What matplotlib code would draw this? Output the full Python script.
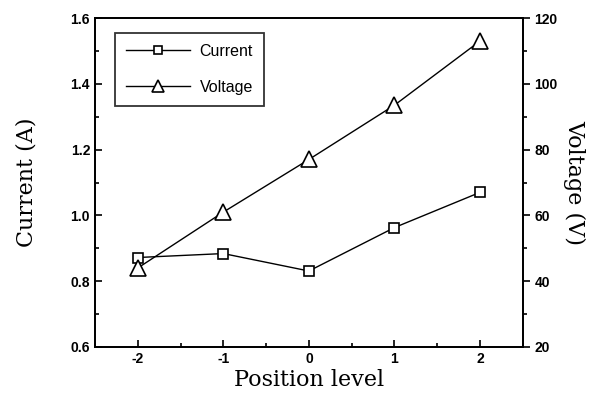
import numpy as np
import matplotlib.pyplot as plt

position = [-2, -1, 0, 1, 2]
current = [0.872, 0.884, 0.831, 0.963, 1.070]
voltage = [44, 61, 77, 93.5, 113]

fig = plt.figure(figsize=(6.03, 4.0), dpi=100)
ax = fig.add_axes([0.1575, 0.1325, 0.7095, 0.8225])
ax2 = ax.twinx()

tick_font = dict(family='Liberation Sans', weight='bold', size=10)
label_font = dict(family='DejaVu Serif', size=16)

l1, = ax.plot(position, current, color='black', lw=1, marker='s', ms=7,
              mfc='white', mec='black', mew=1.2, label='Current')
l2, = ax2.plot(position, voltage, color='black', lw=1, marker='^', ms=11,
               mfc='white', mec='black', mew=1.2, label='Voltage')

ax.set_xlim(-2.5, 2.5)
ax.set_ylim(0.6, 1.6)
ax2.set_ylim(20, 120)

ax.set_xticks(position)
ax.set_xticklabels(['-2', '-1', '0', '1', '2'], **tick_font)
ax.set_xticks(np.arange(-2.5, 2.6, 0.5), minor=True)
ax.set_yticks(np.arange(0.6, 1.61, 0.2))
ax.set_yticklabels([f'{v:.1f}' for v in np.arange(0.6, 1.61, 0.2)], **tick_font)
ax.set_yticks(np.arange(0.6, 1.61, 0.1), minor=True)
ax2.set_yticks(np.arange(20, 121, 20))
ax2.set_yticklabels([str(v) for v in range(20, 121, 20)], **tick_font)
ax2.set_yticks(np.arange(20, 121, 10), minor=True)

ax.tick_params(axis='both', which='both', direction='in', width=1.2)
ax.tick_params(which='major', length=5)
ax.tick_params(which='minor', length=3)
ax2.tick_params(axis='y', which='both', direction='out', width=1.2)
ax2.tick_params(which='major', length=5)
ax2.tick_params(which='minor', length=3)

for a in (ax, ax2):
    for s in a.spines.values():
        s.set_linewidth(1.3)

ax.set_xlabel('Position level', labelpad=2, **label_font)
ax.set_ylabel('Current (A)', labelpad=24, **label_font)
ax2.set_ylabel('Voltage (V)', rotation=270, labelpad=20, **label_font)

leg = ax.legend(handles=[l1, l2], loc='upper left', bbox_to_anchor=(0.028, 0.98),
                frameon=True, fancybox=False, edgecolor='black',
                prop=dict(family='Liberation Sans', size=11.5), handlelength=4.0,
                labelspacing=1.3, borderpad=0.7, handletextpad=0.6,
                markerscale=0.75)
leg.get_frame().set_linewidth(1.3)

fig.savefig('out.png', dpi=100)
